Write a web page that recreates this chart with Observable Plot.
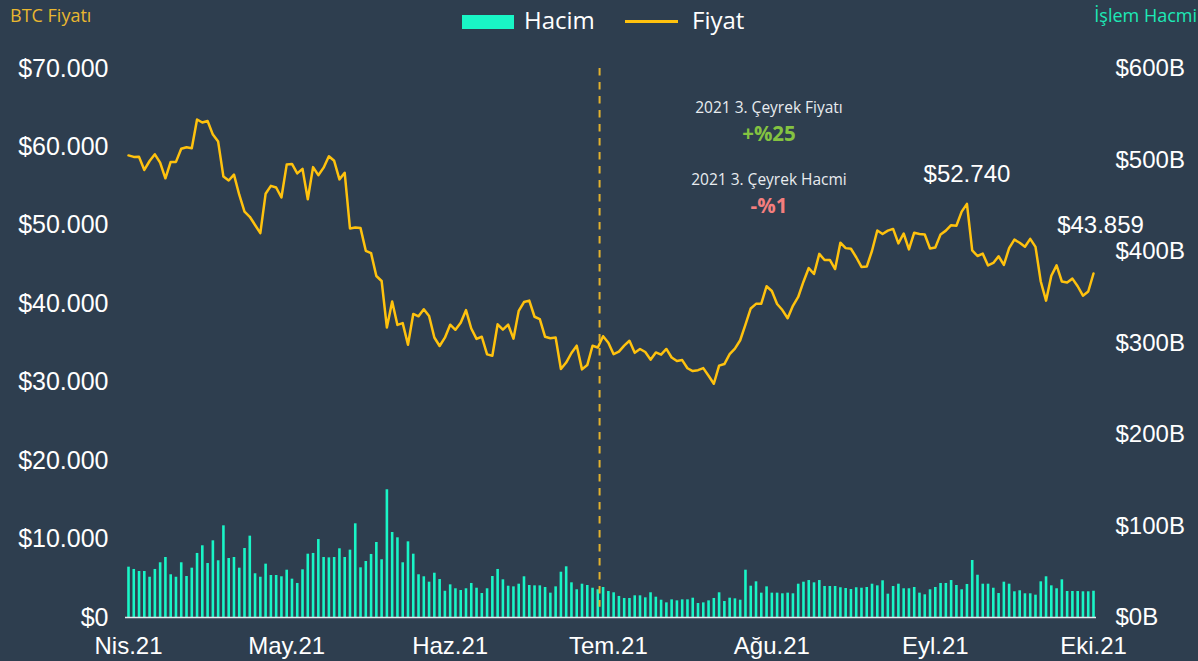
<!DOCTYPE html>
<html>
<head>
<meta charset="utf-8">
<script src="https://cdn.jsdelivr.net/npm/d3@7"></script>
<script src="https://cdn.jsdelivr.net/npm/@observablehq/plot@0.6"></script>
<style>
  html, body { margin: 0; padding: 0; background: #2e3e4f; }
  #wrap { position: relative; width: 1198px; height: 661px; background: #2e3e4f; overflow: hidden; }
  #header { position: relative; width: 1198px; height: 40px; font-family: "Open Sans", sans-serif; }
  #header .t { position: absolute; font-size: 18px; line-height: 18px; top: 6px; white-space: nowrap; }
  #lt { left: 10px; color: #e9b730; }
  #rt { right: 1px; color: #1de9b6; }
  .sw { position: absolute; }
  .lg { position: absolute; font-size: 24px; line-height: 24px; top: 8px; color: #ffffff; white-space: nowrap; }
  #chart svg { display: block; }
</style>
</head>
<body>
<div id="wrap">
  <div id="header">
    <span class="t" id="lt">BTC Fiyatı</span>
    <div class="sw" style="left:462px; top:15px; width:52px; height:14px; background:#19f5c6;"></div>
    <span class="lg" style="left:524px;">Hacim</span>
    <div class="sw" style="left:625px; top:20px; width:53px; height:3px; background:#ffc20e;"></div>
    <span class="lg" style="left:692px;">Fiyat</span>
    <span class="t" id="rt">İşlem Hacmi</span>
  </div>
  <div id="chart"></div>
</div>
<script>
// ---- data (daily, starting 2021-04-01) ----
const startDate = "2021-04-01";
const prices = [
  58918, 58730, 58735, 57060, 58206, 59054, 57990, 56000, 58090, 58093,
  59774, 59964, 59834, 63503, 63109, 63314, 61572, 60684, 56216, 55724,
  56473, 53906, 51763, 51093, 50050, 49004, 54022, 55033, 54825, 53556,
  57750, 57828, 56632, 57200, 53333, 57424, 56397, 57357, 58804, 58232,
  55860, 56705, 49600, 49716, 49650, 46760, 46456, 43538, 42910, 36964,
  40300, 37305, 37536, 34770, 38706, 38403, 39294, 38436, 35698, 34617,
  35678, 37333, 36685, 37576, 39188, 36851, 35520, 35797, 33552, 33380,
  37388, 36702, 37334, 35552, 39097, 40218, 40407, 38348, 38053, 35787,
  35615, 35698, 31676, 32506, 33723, 34662, 31637, 32186, 34649, 34434,
  35867, 35040, 33572, 33897, 34668, 35287, 33746, 34235, 33855, 32877,
  33798, 33520, 34240, 33155, 32702, 32822, 31780, 31421, 31533, 31797,
  30817, 29807, 32110, 32314, 33582, 34292, 35350, 37337, 39406, 39995,
  40008, 42236, 41626, 39974, 39201, 38152, 39747, 40869, 42816, 44555,
  43798, 46365, 45585, 45593, 44428, 47793, 47097, 47019, 45936, 44696,
  44742, 46760, 49340, 48905, 49322, 49546, 47706, 48960, 46942, 49058,
  48903, 48829, 47054, 47166, 48847, 49327, 50025, 49944, 51753, 52740,
  46811, 46091, 46391, 44883, 45201, 46063, 44963, 47092, 48177, 47783,
  47268, 48279, 47261, 42844, 40400, 43574, 44895, 42840, 42717, 43209,
  42236, 41034, 41564, 43859
];
// trading volume, billions of USD
const volumes = [
  55, 52.5, 50.3, 50.3, 44, 52.5, 59.8, 65.6, 46.7, 44,
  59.8, 44.8, 53.9, 70, 78.4, 59, 83.8, 62, 100.2, 64.5,
  65.6, 53.9, 75.4, 88.9, 47.8, 44, 58.3, 45.9, 45.9, 44.5,
  51.7, 41.9, 37.2, 52.1, 69.2, 70, 85.2, 65.6, 65.2, 65.6,
  75.1, 65.6, 73.6, 102.4, 54.3, 61.2, 68.9, 82, 63.1, 139.6,
  92.9, 87.1, 59.8, 82.7, 69.2, 46.7, 44.5, 38.6, 48.4, 41.5,
  28.7, 35.7, 31.4, 29.5, 31.4, 37.2, 32, 26.2, 31.4, 44.8,
  52.5, 41.2, 34.2, 33.5, 36.4, 44.5, 35, 34.6, 34.6, 32.8,
  26.6, 33.5, 49.5, 55.4, 37.9, 30.3, 36.4, 35, 32, 30.3,
  32.8, 28.4, 27, 23, 20.8, 20.8, 23.7, 23.7, 21.5, 27,
  22.2, 18.9, 16, 19.3, 18.2, 19.3, 19.3, 21.1, 15.3, 16,
  18.2, 20.8, 27, 17.5, 21.1, 20.4, 18.9, 51.7, 34.2, 39,
  26.6, 33.5, 26.6, 26.6, 25.9, 26.6, 25.9, 36.4, 38.6, 40.4,
  37.9, 40.4, 33.9, 33.9, 33.9, 32.5, 31.7, 30.6, 32.5, 32,
  32.8, 36.4, 34.6, 40.1, 25.5, 33.9, 36.4, 31.4, 31.4, 32.8,
  26.6, 24.8, 30.3, 32.8, 37.2, 37.2, 40.4, 35, 30.3, 36.1,
  62.3, 46.2, 36.4, 36.4, 32, 26.2, 38.6, 36.4, 28.1, 29.2,
  25.9, 25.9, 24.4, 39, 44.5, 34.6, 31.4, 41.2, 28.4, 28.4,
  28.4, 28.1, 28.1, 28.7
];
const priceTicks = [0, 10000, 20000, 30000, 40000, 50000, 60000, 70000];
const volumeTicks = [0, 100, 200, 300, 400, 500, 600];
const monthTickDates = ["2021-04-01", "2021-05-01", "2021-06-01", "2021-07-01", "2021-08-01", "2021-09-01", "2021-10-01"];
const monthTickLabels = ["Nis.21", "May.21", "Haz.21", "Tem.21", "Ağu.21", "Eyl.21", "Eki.21"];
const quarterMarker = "2021-06-29T08:00:00Z";
const priceLabels = [
  {date: "2021-09-07", value: 52740, text: "$52.740"},
  {date: "2021-10-01", value: 43859, text: "$43.859"}
];
const noteDate = "2021-07-31T11:00:00Z";
const notes = [
  {value: 65000, text: "2021 3. Çeyrek Fiyatı", kind: "title"},
  {value: 61600, text: "+%25", kind: "up"},
  {value: 55820, text: "2021 3. Çeyrek Hacmi", kind: "title"},
  {value: 52400, text: "-%1", kind: "down"}
];

// ---- build ----
const day0 = new Date(startDate + "T00:00:00Z");
const rows = prices.map((p, i) => ({
  date: new Date(day0.getTime() + i * 86400000),
  price: p,
  vol: volumes[i]
}));
const maxPrice = 70000, maxVol = 600;
const k = maxPrice / maxVol; // volume -> price-axis units
const tickDates = monthTickDates.map(s => new Date(s + "T00:00:00Z"));
const labelOf = new Map(tickDates.map((d, i) => [+d, monthTickLabels[i]]));
const fmtPrice = d => "$" + d3.format(",")(d).replace(/,/g, ".");
const xDomain = [rows[0].date, rows[rows.length - 1].date];

const colors = {bar: "#19f5c6", line: "#ffc20e", dash: "#e2b12e", up: "#84c341", down: "#f47e7e", note: "#e8ecef"};

const chart = Plot.plot({
  width: 1198,
  height: 621,
  marginLeft: 128,
  marginRight: 105,
  marginTop: 28,
  marginBottom: 44,
  style: {background: "transparent", color: "#ffffff", fontFamily: "'Liberation Sans', Arial, sans-serif", fontSize: "24px", overflow: "visible"},
  x: {type: "utc", domain: xDomain, label: null},
  y: {domain: [0, maxPrice], label: null},
  marks: [
    Plot.ruleX(rows, {x: "date", y1: 0, y2: d => d.vol * k, stroke: colors.bar, strokeWidth: 2.6}),
    Plot.ruleY([0], {stroke: "#e3e9ec", strokeWidth: 1.5, insetLeft: -3, insetRight: -3}),
    Plot.ruleX([new Date(quarterMarker)], {y1: maxPrice, y2: 1300, stroke: colors.dash, strokeWidth: 2, strokeDasharray: "7.5,6.5"}),
    Plot.lineY(rows, {x: "date", y: "price", stroke: colors.line, strokeWidth: 2.5, strokeLinejoin: "round"}),
    Plot.axisY(priceTicks, {anchor: "left", tickSize: 0, tickPadding: 20, tickFormat: fmtPrice, fontSize: 25, fill: "#ffffff", label: null}),
    Plot.axisY(volumeTicks.map(v => v * k), {anchor: "right", tickSize: 0, tickPadding: 22, tickFormat: d => "$" + Math.round(d / k) + "B", fontSize: 24, fill: "#ffffff", label: null}),
    Plot.axisX(tickDates, {anchor: "bottom", tickSize: 0, tickPadding: 19, tickFormat: d => labelOf.get(+d), fontSize: 24, fill: "#ffffff", label: null}),
    Plot.text(priceLabels.slice(0, 1), {x: d => new Date(d.date + "T00:00:00Z"), y: "value", text: "text", dy: -30, fontSize: 24, fill: "#ffffff"}),
    Plot.text(priceLabels.slice(1), {x: d => new Date(d.date + "T00:00:00Z"), y: "value", text: "text", dy: -48, dx: 7, fontSize: 24, fill: "#ffffff"}),
    Plot.text(notes.filter(d => d.kind === "title"), {x: () => new Date(noteDate), y: "value", text: "text", fontFamily: "'Open Sans', sans-serif", fontSize: 15.5, fill: colors.note}),
    Plot.text(notes.filter(d => d.kind === "up"), {x: () => new Date(noteDate), y: "value", text: "text", fontFamily: "'Open Sans', sans-serif", fontWeight: "bold", fontSize: 20.5, fill: colors.up}),
    Plot.text(notes.filter(d => d.kind === "down"), {x: () => new Date(noteDate), y: "value", text: "text", fontFamily: "'Open Sans', sans-serif", fontWeight: "bold", fontSize: 20.5, fill: colors.down})
  ]
});
document.getElementById("chart").appendChild(chart);
</script>
</body>
</html>
